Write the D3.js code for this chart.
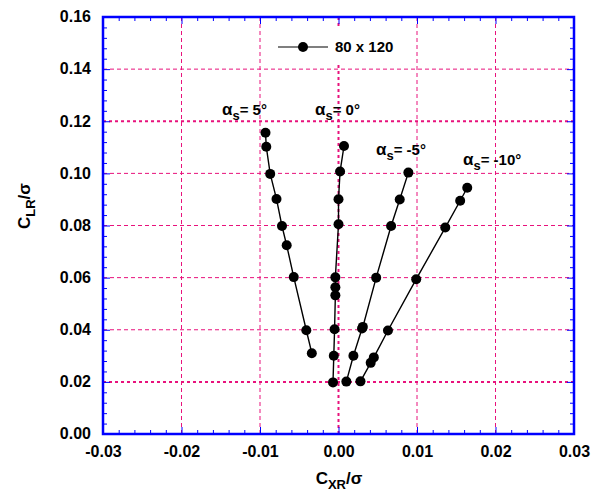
<!DOCTYPE html>
<html>
<head>
<meta charset="utf-8">
<script src="https://cdn.jsdelivr.net/npm/d3@7/dist/d3.min.js"></script>
<style>
  html, body { margin: 0; padding: 0; background: #fff; }
  svg { display: block; font-family: "Liberation Sans", Arial, sans-serif; font-weight: bold; }
</style>
</head>
<body>
<svg id="chart" width="605" height="495"></svg>
<script>
// Rotor force ratios, grid 80 x 120, for four shaft angles
const seriesName = "80 x 120";

const alpha5 = [
  [-0.0093, 0.1156], [-0.0092, 0.1102], [-0.0087, 0.0998], [-0.0079, 0.0902],
  [-0.0072, 0.0798], [-0.0066, 0.0724], [-0.0057, 0.0602], [-0.0041, 0.0398],
  [-0.0034, 0.0310]
];
const alpha0 = [
  [0.0007, 0.1105], [0.0002, 0.1007], [0.0000, 0.0901], [0.0000, 0.0805],
  [-0.0004, 0.0601], [-0.0004, 0.0563], [-0.0004, 0.0532], [-0.0005, 0.0402],
  [-0.0006, 0.0300], [-0.0007, 0.0198]
];
const alphaM5 = [
  [0.0010, 0.0201], [0.0019, 0.0300], [0.0030, 0.0405], [0.0031, 0.0411],
  [0.0048, 0.0600], [0.0067, 0.0798], [0.0078, 0.0900], [0.0089, 0.1003]
];
const alphaM10 = [
  [0.0028, 0.0202], [0.0041, 0.0273], [0.0045, 0.0294], [0.0063, 0.0397],
  [0.0099, 0.0594], [0.0136, 0.0792], [0.0155, 0.0895], [0.0164, 0.0945]
];

const curveLabels = ["5°", "0°", "-5°", "-10°"];

const xTicks = [-0.03, -0.02, -0.01, 0.00, 0.01, 0.02, 0.03];
const yTicks = [0.00, 0.02, 0.04, 0.06, 0.08, 0.10, 0.12, 0.14, 0.16];
const xMinor = [-0.028, -0.026, -0.024, -0.022, -0.018, -0.016, -0.014, -0.012,
  -0.008, -0.006, -0.004, -0.002, 0.002, 0.004, 0.006, 0.008,
  0.012, 0.014, 0.016, 0.018, 0.022, 0.024, 0.026, 0.028];
const yMinor = [0.004, 0.008, 0.012, 0.016, 0.024, 0.028, 0.032, 0.036,
  0.044, 0.048, 0.052, 0.056, 0.064, 0.068, 0.072, 0.076,
  0.084, 0.088, 0.092, 0.096, 0.104, 0.108, 0.112, 0.116,
  0.124, 0.128, 0.132, 0.136, 0.144, 0.148, 0.152, 0.156];

const svg = d3.select("#chart");
const L = 103, R = 574, T = 17, B = 434;
const x = d3.scaleLinear().domain([-0.03, 0.03]).range([L, R]);
const y = d3.scaleLinear().domain([0, 0.16]).range([B, T]);

const gridColor = "#e8127c";
const axisColor = "#0000ff";

// grid
const grid = svg.append("g");
xTicks.slice(1, -1).forEach(v => {
  const heavy = v === 0;
  grid.append("line")
    .attr("x1", x(v)).attr("x2", x(v)).attr("y1", T).attr("y2", B)
    .attr("stroke", gridColor).attr("stroke-width", heavy ? 2 : 1)
    .attr("stroke-dasharray", heavy ? "3,3" : "4,3");
});
yTicks.slice(1, -1).forEach(v => {
  const heavy = v === 0.12 || v === 0.02;
  grid.append("line")
    .attr("x1", L).attr("x2", R).attr("y1", y(v)).attr("y2", y(v))
    .attr("stroke", gridColor).attr("stroke-width", heavy ? 2 : 1)
    .attr("stroke-dasharray", heavy ? "3,3" : "4,3");
});

// legend background
svg.append("rect").attr("x", 266).attr("y", 29).attr("width", 146).attr("height", 35)
  .attr("fill", "#fff");

// curves
const line = d3.line().x(d => x(d[0])).y(d => y(d[1]));
const allSeries = [alpha5, alpha0, alphaM5, alphaM10];
allSeries.forEach(s => {
  svg.append("path").datum(s).attr("d", line)
    .attr("fill", "none").attr("stroke", "#000").attr("stroke-width", 1.4);
  svg.append("g").selectAll("circle").data(s).join("circle")
    .attr("cx", d => x(d[0])).attr("cy", d => y(d[1])).attr("r", 5)
    .attr("fill", "#000");
});

// curve labels
const labelPos = [[222, 115], [315, 115], [376, 155], [463, 165]];
curveLabels.forEach((t, i) => {
  const txt = svg.append("text")
    .attr("x", labelPos[i][0]).attr("y", labelPos[i][1])
    .attr("font-size", 15).attr("fill", "#000");
  txt.append("tspan").text("α").attr("font-size", 17);
  txt.append("tspan").text("s").attr("dy", 5).attr("font-size", 13);
  txt.append("tspan").text("= " + t).attr("dy", -5);
});

// legend
svg.append("line").attr("x1", 278).attr("x2", 328).attr("y1", 47).attr("y2", 47)
  .attr("stroke", "#555").attr("stroke-width", 1.5);
svg.append("circle").attr("cx", 303).attr("cy", 47).attr("r", 5).attr("fill", "#000");
svg.append("text").attr("x", 335).attr("y", 52).attr("font-size", 15)
  .attr("fill", "#000").text(seriesName);

// axes
const fmt = d => d.toFixed(2);
function addAxis(gen, tf, values, size, labels) {
  const g = svg.append("g").attr("transform", tf)
    .call(gen.tickValues(values).tickSize(size).tickSizeOuter(0)
      .tickFormat(labels ? fmt : ""));
  g.select(".domain").remove();
  g.selectAll(".tick line").attr("stroke", axisColor).attr("stroke-width", 1);
  g.selectAll(".tick text").attr("fill", "#000")
    .attr("font-size", 16).attr("font-weight", "bold")
    .attr("font-family", "Liberation Sans, Arial, sans-serif");
  return g;
}
const xb = addAxis(d3.axisBottom(x), `translate(0,${B})`, xTicks, -7, true);
xb.selectAll(".tick text").attr("y", 12).attr("dy", "0.71em");
addAxis(d3.axisBottom(x), `translate(0,${B})`, xMinor, -4, false);
addAxis(d3.axisTop(x), `translate(0,${T})`, xTicks, -7, false);
addAxis(d3.axisTop(x), `translate(0,${T})`, xMinor, -4, false);
const yl = addAxis(d3.axisLeft(y), `translate(${L},0)`, yTicks, -7, true);
yl.selectAll(".tick text").attr("x", -12).attr("dy", "0.3em");
addAxis(d3.axisLeft(y), `translate(${L},0)`, yMinor, -4, false);
addAxis(d3.axisRight(y), `translate(${R},0)`, yTicks, -7, false);
addAxis(d3.axisRight(y), `translate(${R},0)`, yMinor, -4, false);

// frame
svg.append("rect").attr("x", L).attr("y", T).attr("width", R - L).attr("height", B - T)
  .attr("fill", "none").attr("stroke", axisColor).attr("stroke-width", 2.5);

// axis titles
const xt = svg.append("text").attr("x", 339).attr("y", 484)
  .attr("text-anchor", "middle").attr("font-size", 17).attr("fill", "#000");
xt.append("tspan").text("C");
xt.append("tspan").text("XR").attr("dy", 5).attr("font-size", 13);
xt.append("tspan").text("/σ").attr("dy", -5);

const yt = svg.append("text").attr("transform", "translate(30,206) rotate(-90)")
  .attr("text-anchor", "middle").attr("font-size", 17).attr("fill", "#000");
yt.append("tspan").text("C");
yt.append("tspan").text("LR").attr("dy", 5).attr("font-size", 13);
yt.append("tspan").text("/σ").attr("dy", -5);
</script>
</body>
</html>
